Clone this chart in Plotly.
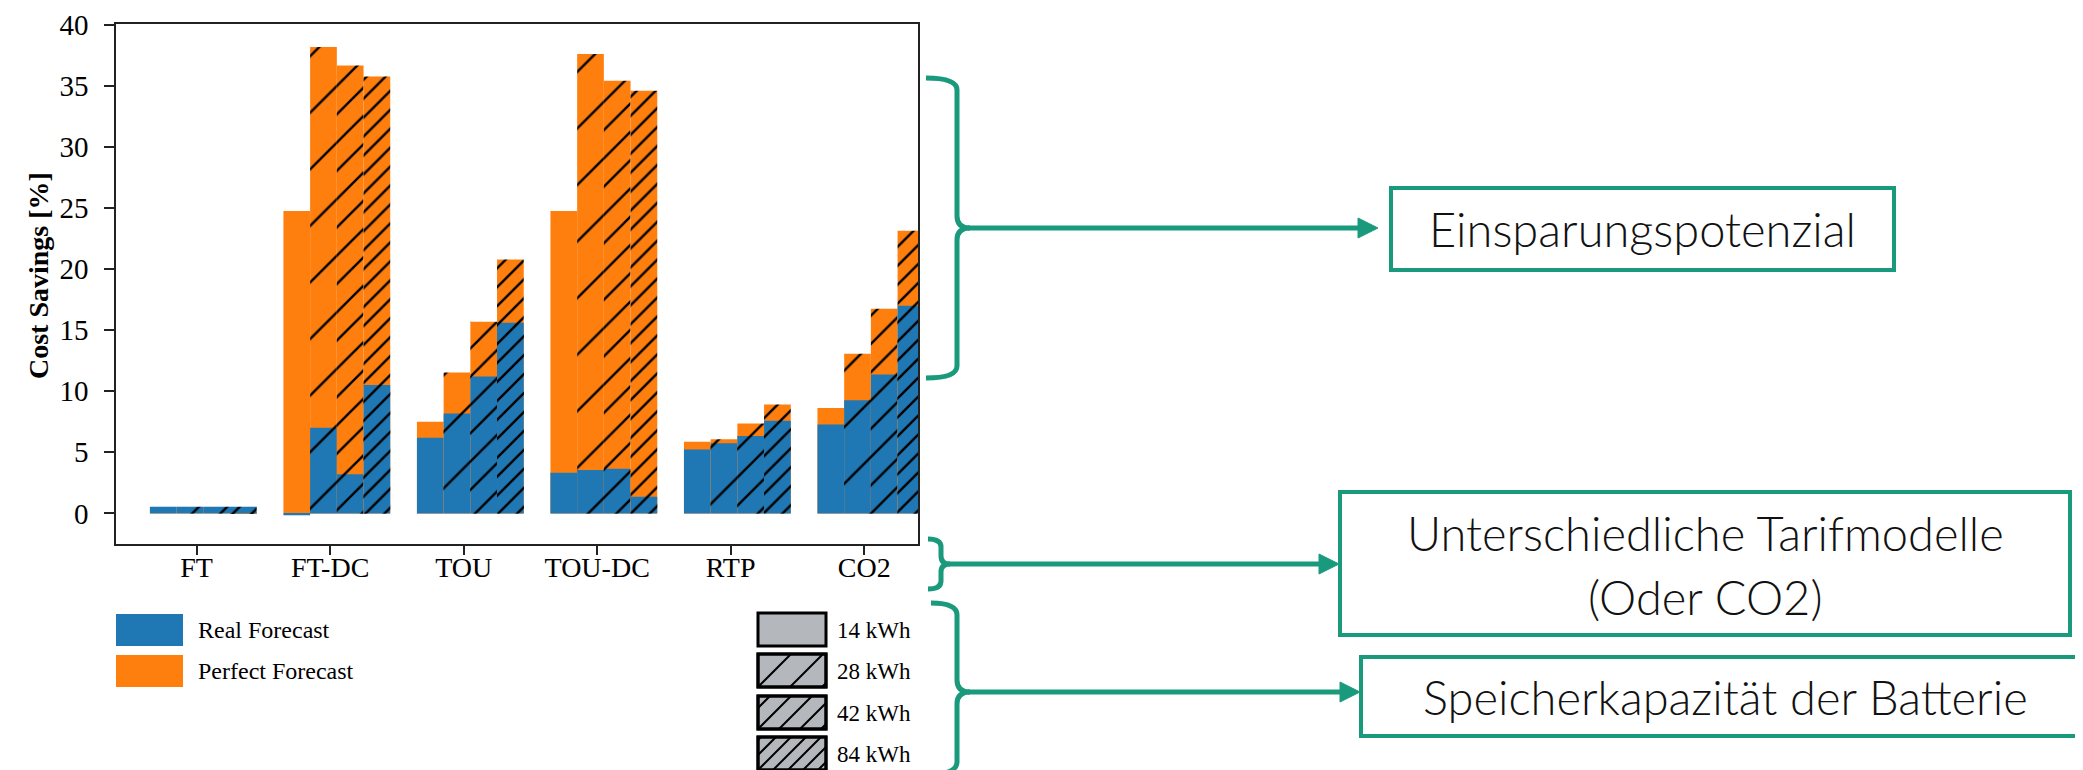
import plotly.graph_objects as go

# ---------------- data ----------------
categories = ["FT", "FT-DC", "TOU", "TOU-DC", "RTP", "CO2"]
capacity_labels = ["14 kWh", "28 kWh", "42 kWh", "84 kWh"]
series_labels = ["Real Forecast", "Perfect Forecast"]

real_14 = [0.55, -0.15, 6.19, 3.33, 5.23, 7.27]
real_28 = [0.55, 7.01, 8.18, 3.56, 5.75, 9.26]
real_42 = [0.55, 3.21, 11.21, 3.65, 6.34, 11.36]
real_84 = [0.55, 10.51, 15.60, 1.37, 7.59, 17.00]

perfect_14 = [0.50, 24.74, 7.51, 24.74, 5.87, 8.62]
perfect_28 = [0.50, 38.17, 11.54, 37.59, 6.07, 13.06]
perfect_42 = [0.50, 36.65, 15.68, 35.40, 7.36, 16.76]
perfect_84 = [0.10, 35.75, 20.77, 34.58, 8.91, 23.13]

y_ticks = [0, 5, 10, 15, 20, 25, 30, 35, 40]
y_title = "Cost Savings [%]"

annot_potential = "Einsparungspotenzial"
annot_tariff = ["Unterschiedliche Tarifmodelle", "(Oder CO2)"]
annot_battery = "Speicherkapazität der Batterie"

# ---------------- styling ----------------
W, H = 2083, 770
L, R, T, B = 108, 910, 16, 536
BLUE, ORANGE = "#1f77b4", "#ff7f0e"
GREEN = "#1a9a7c"
SERIF = "Liberation Serif"
SANS = "Lato"

real_by_cap = [real_14, real_28, real_42, real_84]
perfect_by_cap = [perfect_14, perfect_28, perfect_42, perfect_84]
offsets = [-0.25, -0.05, 0.15, 0.35]
bar_width = 0.2
hatch_shape = ["", "/", "/", "/"]
hatch_size = [8, 40, 20, 13.4]
hatch_solid = [0.2, 0.06, 0.12, 0.18]


def px(x):
    return (x - L) / (R - L)


def py(y):
    return (B - y) / (B - T)


fig = go.Figure()
for k in range(4):
    xs = [i + offsets[k] for i in range(len(categories))]
    for vals, col, name in ((perfect_by_cap[k], ORANGE, series_labels[1]),
                            (real_by_cap[k], BLUE, series_labels[0])):
        pattern = dict(shape=hatch_shape[k], size=hatch_size[k], solidity=hatch_solid[k],
                       fillmode="overlay", fgcolor="black", fgopacity=1)
        fig.add_trace(go.Bar(
            x=xs, y=vals, width=bar_width, name=f"{name} {capacity_labels[k]}",
            marker=dict(color=col, line=dict(width=0), pattern=pattern),
            showlegend=False, hoverinfo="x+y",
        ))

shapes = []
annotations = []

# ---- legend (left) ----
for j, (lab, col) in enumerate(zip(series_labels, [BLUE, ORANGE])):
    y0 = 606 + j * 41
    shapes.append(dict(type="rect", xref="paper", yref="paper", x0=px(108), x1=px(175),
                       y0=py(y0), y1=py(y0 + 32), fillcolor=col, line=dict(width=0)))
    annotations.append(dict(text=lab, xref="paper", yref="paper", x=px(188), y=py(y0 + 16),
                            xanchor="left", yanchor="middle", showarrow=False,
                            font=dict(family=SERIF, size=24, color="black")))

# ---- legend (capacity, hatched boxes) ----
box_tops = [605, 646, 688, 729]
legend_spacing = [None, 32, 21, 15]
bx0, bx1 = 750, 818
for k, lab in enumerate(capacity_labels):
    y0, y1 = box_tops[k], box_tops[k] + 33
    shapes.append(dict(type="rect", xref="paper", yref="paper", x0=px(bx0), x1=px(bx1),
                       y0=py(y0), y1=py(y1), fillcolor="#b4b8bc",
                       line=dict(color="black", width=3), layer="above"))
    s = legend_spacing[k]
    if s:
        segs = []
        c0 = bx0 + y1
        n = -10
        while True:
            c = c0 + n * s
            n += 1
            if c > bx1 + y1:
                break
            xs_ = max(bx0, c - y1)
            xe_ = min(bx1, c - y0)
            if xe_ - xs_ < 1:
                continue
            segs.append(f"M{px(xs_):.5f},{py(c - xs_):.5f} L{px(xe_):.5f},{py(c - xe_):.5f}")
        shapes.append(dict(type="path", xref="paper", yref="paper", path=" ".join(segs),
                           line=dict(color="black", width=2), layer="above"))
        shapes.append(dict(type="rect", xref="paper", yref="paper", x0=px(bx0), x1=px(bx1),
                           y0=py(y0), y1=py(y1), line=dict(color="black", width=3), layer="above"))
    annotations.append(dict(text=lab, xref="paper", yref="paper", x=px(827), y=py(y0 + 17),
                            xanchor="left", yanchor="middle", showarrow=False,
                            font=dict(family=SERIF, size=23, color="black")))


# ---- braces and arrows ----
def brace(x0, xv, xtip, ytop, ymid, ybot, r):
    pts = [
        f"M{px(x0)},{py(ytop)}",
        f"Q{px(xv)},{py(ytop)} {px(xv)},{py(ytop + r)}",
        f"L{px(xv)},{py(ymid - r)}",
        f"Q{px(xv)},{py(ymid)} {px(xtip)},{py(ymid)}",
        f"Q{px(xv)},{py(ymid)} {px(xv)},{py(ymid + r)}",
        f"L{px(xv)},{py(ybot - r)}",
        f"Q{px(xv)},{py(ybot)} {px(x0)},{py(ybot)}",
    ]
    return dict(type="path", xref="paper", yref="paper", path=" ".join(pts),
                line=dict(color=GREEN, width=5))


def arrow(xs, xe, y):
    out = [dict(type="line", xref="paper", yref="paper", x0=px(xs), x1=px(xe - 14),
                y0=py(y), y1=py(y), line=dict(color=GREEN, width=5))]
    out.append(dict(type="path", xref="paper", yref="paper",
                    path=f"M{px(xe - 20)},{py(y - 10)} L{px(xe)},{py(y)} L{px(xe - 20)},{py(y + 10)} Z",
                    fillcolor=GREEN, line=dict(color=GREEN, width=1)))
    return out


shapes.append(brace(918, 949, 962, 70, 220, 370, 12))
shapes += arrow(960, 1370, 220)
shapes.append(brace(920, 933, 942, 531, 556, 581, 8))
shapes += arrow(940, 1331, 556)
shapes.append(brace(923, 949, 962, 595, 684, 766, 12))
shapes += arrow(960, 1352, 684)

# ---- text boxes ----
boxes = [(1383, 1886, 180, 262), (1332, 2062, 484, 627), (1353, 2081, 649, 728)]
for (x0, x1, y0, y1) in boxes:
    shapes.append(dict(type="rect", xref="paper", yref="paper", x0=px(x0), x1=px(x1),
                       y0=py(y0), y1=py(y1), line=dict(color=GREEN, width=4),
                       fillcolor="rgba(0,0,0,0)"))

box_font = dict(family=SANS, size=47, color="#111111", weight=300)
annotations.append(dict(text=annot_potential, xref="paper", yref="paper",
                        x=px((1383 + 1886) / 2), y=py(221), xanchor="center", yanchor="middle",
                        showarrow=False, font=box_font))
annotations.append(dict(text=annot_tariff[0], xref="paper", yref="paper",
                        x=px((1332 + 2062) / 2), y=py(525), xanchor="center", yanchor="middle",
                        showarrow=False, font=box_font))
annotations.append(dict(text=annot_tariff[1], xref="paper", yref="paper",
                        x=px((1332 + 2062) / 2), y=py(589), xanchor="center", yanchor="middle",
                        showarrow=False, font=box_font))
annotations.append(dict(text=annot_battery, xref="paper", yref="paper",
                        x=px((1353 + 2081) / 2), y=py(689), xanchor="center", yanchor="middle",
                        showarrow=False, font=box_font))

# ---- y axis title ----
annotations.append(dict(text=f"<b>{y_title}</b>", xref="paper", yref="paper",
                        x=px(30), y=py(268), xanchor="center", yanchor="middle",
                        textangle=-90, showarrow=False,
                        font=dict(family=SERIF, size=28, color="black")))

fig.update_layout(
    width=W, height=H,
    margin=dict(l=L, r=W - R, t=T, b=H - B, autoexpand=False),
    barmode="overlay",
    paper_bgcolor="white", plot_bgcolor="white",
    shapes=shapes, annotations=annotations,
    showlegend=False,
)
fig.update_xaxes(
    range=[-0.604, 5.403], tickvals=list(range(len(categories))), ticktext=categories,
    showgrid=False, zeroline=False, showline=True, mirror=True, linecolor="#222", linewidth=1.5,
    ticks="outside", ticklen=9, tickwidth=1.5, tickcolor="#222",
    tickfont=dict(family=SERIF, size=28, color="black"),
    ticklabelstandoff=-11,
)
fig.update_yaxes(
    range=[-2.5, 40.05], tickvals=y_ticks,
    showgrid=False, zeroline=False, showline=True, mirror=True, linecolor="#222", linewidth=1.5,
    ticks="outside", ticklen=10, tickwidth=1.5, tickcolor="#222",
    tickfont=dict(family=SERIF, size=29, color="black"),
    ticklabelstandoff=10,
)

fig.write_html("out.html")
